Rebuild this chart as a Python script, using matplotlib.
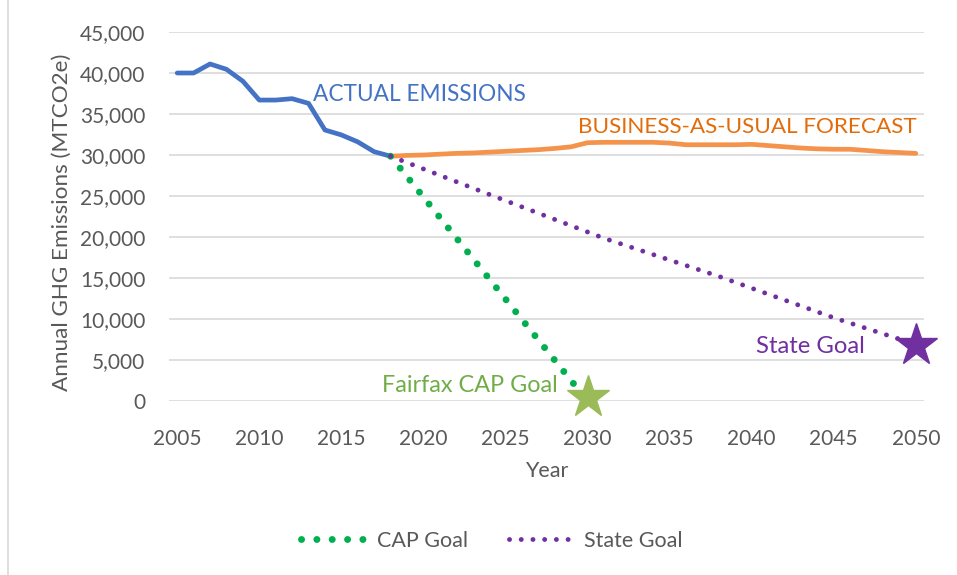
import matplotlib
matplotlib.use("Agg")
import matplotlib.pyplot as plt
from matplotlib.lines import Line2D

plt.rcParams['font.family'] = ['Lato', 'DejaVu Sans']

# ---- data ----
actual_years = list(range(2005, 2019))
actual_vals = [40000, 40000, 41100, 40450, 39000, 36700, 36700, 36870, 36300,
               33050, 32450, 31600, 30400, 29850]

bau_years = list(range(2018, 2051))
bau_vals = [29850, 29950, 30000, 30100, 30200, 30250, 30350, 30450, 30550, 30650,
            30800, 31000, 31500, 31550, 31550, 31550, 31550, 31450, 31250, 31250,
            31250, 31250, 31300, 31150, 31000, 30850, 30750, 30700, 30700, 30550,
            30400, 30300, 30200]

cap_years = [2018, 2030]
cap_vals = [29850, 0]

state_years = [2018, 2024, 2031, 2038, 2045, 2050]
state_vals = [29850, 25200, 19850, 15200, 10150, 6900]

cap_star = (2030, 500)
state_star = (2050, 6800)

yticks = list(range(0, 45001, 5000))
xticks = list(range(2005, 2051, 5))

# ---- colors ----
C_BLUE = '#4472C4'
C_ORANGE = '#F4944C'
C_ORANGE_TXT = '#E36C0A'
C_GREEN = '#00B050'
C_GREEN_STAR = '#9BBB59'
C_GREEN_TXT = '#70AD47'
C_PURPLE = '#7030A0'
C_TICK = '#595959'
C_GRID = '#D9D9D9'

W, H = 957, 575
fig = plt.figure(figsize=(W / 100, H / 100), dpi=100)
ax = fig.add_axes([169 / W, 1 - 401 / H, (924 - 169) / W, (401 - 32) / H])

ax.set_xlim(2004.5, 2050.5)
ax.set_ylim(0, 45000)
ax.set_yticks(yticks)
ax.set_yticklabels([f"{v:,}" for v in yticks])
ax.set_xticks(xticks)
ax.grid(axis='y', color=C_GRID, linewidth=1.2)
ax.set_axisbelow(True)
for s in ax.spines.values():
    s.set_visible(False)
ax.tick_params(axis='both', length=0, labelsize=15, labelcolor=C_TICK)
ax.tick_params(axis='y', pad=17)
ax.tick_params(axis='x', pad=20)

ax.plot(actual_years, actual_vals, color=C_BLUE, lw=3.4, solid_capstyle='round',
        solid_joinstyle='round', zorder=4)
ax.plot(bau_years, bau_vals, color=C_ORANGE, lw=3.4, solid_capstyle='round',
        solid_joinstyle='round', zorder=3)

cap_line, = ax.plot(cap_years, cap_vals, color=C_GREEN, lw=5.0, dashes=(0.01, 2.2),
                    dash_capstyle='round', zorder=5, label='CAP Goal')
state_line, = ax.plot(state_years, state_vals, color=C_PURPLE, lw=3.5, dashes=(0.01, 2.4),
                      dash_capstyle='round', zorder=5, label='State Goal')

ax.plot([cap_star[0]], [cap_star[1]], marker='*', ms=32, color=C_GREEN_STAR,
        mec=C_GREEN_STAR, clip_on=False, zorder=6, linestyle='none')
ax.plot([state_star[0]], [state_star[1]], marker='*', ms=32, color=C_PURPLE,
        mec=C_PURPLE, clip_on=False, zorder=6, linestyle='none')

ax.text(2013.3, 37400, 'ACTUAL EMISSIONS', color=C_BLUE, fontsize=16.3,
        ha='left', va='center')
ax.text(2050.05, 33450, 'BUSINESS-AS-USUAL FORECAST', color=C_ORANGE_TXT, fontsize=16.2,
        ha='right', va='center')
ax.text(2028.2, 1950, 'Fairfax CAP Goal', color=C_GREEN_TXT, fontsize=16.8,
        ha='right', va='center')
ax.text(2046.9, 6600, 'State Goal', color=C_PURPLE, fontsize=17.2,
        ha='right', va='center')

fig.text(62 / W, 1 - 222 / H, 'Annual GHG Emissions (MTCO2e)', rotation=90,
         ha='center', va='center', fontsize=16.2, color=C_TICK)
fig.text(547 / W, 1 - 471 / H, 'Year', ha='center', va='center', fontsize=15.5,
         color=C_TICK)

leg_cap = Line2D([0], [0], color=C_GREEN, lw=5.0, dashes=(0.01, 2.2), dash_capstyle='round')
leg_state = Line2D([0], [0], color=C_PURPLE, lw=3.5, dashes=(0.01, 2.4), dash_capstyle='round')
fig.legend([leg_cap, leg_state], ['CAP Goal', 'State Goal'], loc='center',
           bbox_to_anchor=(492 / W, 1 - 541 / H), ncol=2, frameon=False,
           fontsize=15.5, labelcolor=C_TICK, handlelength=3.0, columnspacing=1.9,
           handletextpad=0.5)

fig.add_artist(Line2D([8 / W, 8 / W], [0, 1], color='#D9D9D9', lw=1.2))

fig.savefig('out.png', dpi=100)
